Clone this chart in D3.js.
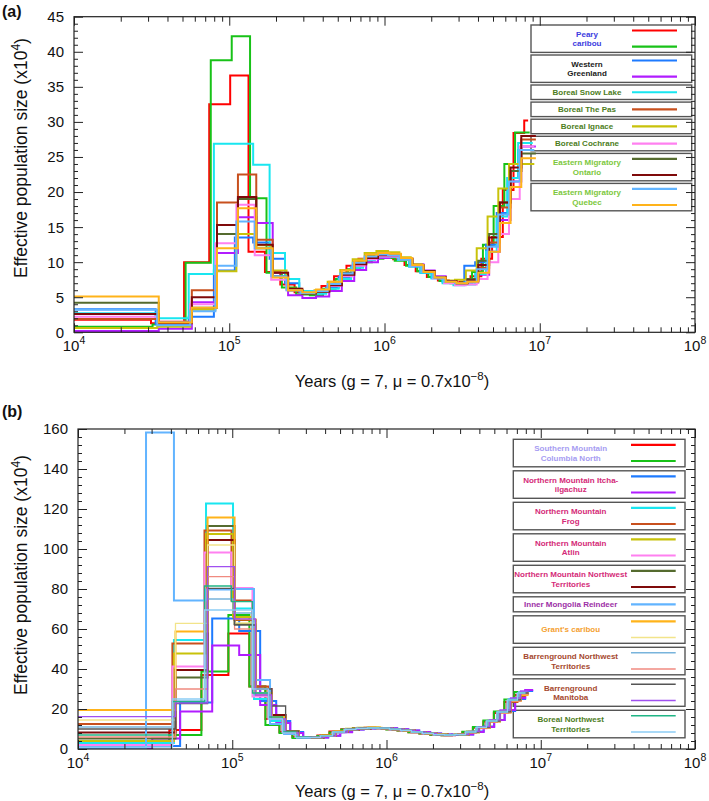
<!DOCTYPE html>
<html><head><meta charset="utf-8">
<script src="https://cdn.jsdelivr.net/npm/d3@7/dist/d3.min.js"></script>
<style>
body{margin:0;background:#fff}
text{font-family:"Liberation Sans",Arial,Helvetica,sans-serif}
</style>
</head><body>
<svg id="chart" width="709" height="801"></svg>
<script>
// ---------------- DATA ----------------
const xTickExponents = [4, 5, 6, 7, 8];
const yTicksA = [0, 5, 10, 15, 20, 25, 30, 35, 40, 45];
const yTicksB = [0, 20, 40, 60, 80, 100, 120, 140, 160];

// interval boundaries (log10 years) of the PSMC step curves
const gridA = [4.496, 4.709, 4.871, 5.006, 5.124, 5.230, 5.329, 5.421, 5.509, 5.594, 5.675, 5.755, 5.832, 5.908,
  5.983, 6.056, 6.129, 6.201, 6.273, 6.344, 6.414, 6.484, 6.554, 6.624, 6.693, 6.762, 6.831, 6.900, 6.925];
const gridB = [4.441, 4.622, 4.830, 5.005, 5.141, 5.245, 5.336, 5.420, 5.504, 5.582, 5.660, 5.737, 5.812, 5.887,
  5.958, 6.029, 6.101, 6.172, 6.243, 6.314, 6.386, 6.454, 6.522, 6.590, 6.658, 6.726, 6.794, 6.859, 6.911];

// panel (a) series: effective population size (x10^4) per interval
const pearyA1 = [1.8, 1.3, 10.0, 32.5, 36.6, 11.5, 8.6, 6.8, 5.7, 5.6, 6.6, 8.0, 9.5, 10.5, 10.9, 10.9, 10.4, 9.6, 8.7, 7.9, 7.4, 7.1, 7.2, 8.0, 10.5, 13.6, 20.3, 28.4, 30.2];
const pearyA2 = [0.8, 1.1, 9.9, 38.8, 42.2, 19.1, 8.5, 6.4, 5.4, 5.3, 6.2, 7.6, 9.0, 10.0, 10.5, 10.6, 10.2, 9.5, 8.7, 7.9, 7.3, 7.0, 7.1, 8.6, 12.5, 18.0, 24.0, 28.5, 28.5];
const westGreen1 = [3.3, 1.2, 2.2, 8.8, 13.5, 12.8, 10.5, 7.0, 5.7, 5.6, 6.4, 7.9, 9.4, 10.4, 10.8, 10.8, 10.3, 9.4, 8.5, 7.7, 7.2, 7.0, 9.5, 10.0, 12.5, 17.0, 22.0, 26.0, 26.0];
const westGreen2 = [0.2, 0.5, 4.3, 11.3, 16.4, 15.6, 8.5, 5.3, 4.9, 5.1, 5.9, 7.3, 8.9, 10.0, 10.6, 10.8, 10.5, 9.7, 8.8, 8.0, 7.3, 7.0, 7.1, 8.2, 11.5, 16.0, 21.5, 26.5, 26.5];
const snowLake = [2.7, 2.0, 8.3, 26.9, 26.9, 23.9, 11.3, 7.6, 5.9, 5.5, 6.2, 7.6, 9.2, 10.3, 10.8, 10.8, 10.3, 9.4, 8.5, 7.7, 7.0, 6.7, 6.8, 8.3, 11.5, 16.5, 22.0, 27.0, 27.0];
const thePas = [1.9, 1.5, 6.0, 18.5, 22.5, 13.2, 8.0, 6.0, 5.5, 5.8, 6.7, 8.2, 9.7, 10.6, 11.0, 11.0, 10.4, 9.5, 8.6, 7.8, 7.2, 7.0, 7.3, 9.2, 12.8, 17.8, 23.0, 27.5, 27.5];
const ignace = [0.6, 0.8, 3.2, 8.7, 14.0, 12.4, 8.8, 6.2, 5.6, 6.0, 7.2, 8.9, 10.4, 11.3, 11.6, 11.4, 10.7, 9.7, 8.7, 7.9, 7.4, 7.5, 8.8, 12.0, 16.5, 20.5, 24.0, 24.0, 24.0];
const cochrane = [2.2, 1.5, 4.0, 12.7, 18.2, 11.0, 7.5, 6.0, 5.6, 5.8, 6.6, 8.0, 9.5, 10.4, 10.8, 10.8, 10.4, 9.5, 8.6, 7.7, 7.0, 6.7, 6.8, 7.6, 10.0, 14.0, 19.0, 26.5, 26.5];
const ontario1 = [4.2, 1.4, 3.5, 14.0, 19.0, 12.0, 8.0, 6.0, 5.5, 5.8, 6.9, 8.5, 10.0, 10.9, 11.2, 11.1, 10.5, 9.6, 8.7, 7.8, 7.2, 7.0, 7.6, 10.2, 14.0, 18.5, 23.0, 25.5, 25.5];
const ontario2 = [2.6, 1.3, 5.0, 15.3, 19.3, 12.5, 8.5, 6.2, 5.6, 5.8, 6.7, 8.2, 9.7, 10.6, 11.0, 11.0, 10.5, 9.6, 8.7, 7.9, 7.3, 7.0, 7.4, 9.6, 13.5, 18.5, 23.5, 28.0, 28.0];
const quebec1 = [3.2, 1.0, 3.0, 9.5, 15.8, 12.0, 8.0, 6.0, 5.6, 5.9, 6.9, 8.4, 9.9, 10.8, 11.1, 11.0, 10.4, 9.5, 8.6, 7.8, 7.2, 7.0, 7.2, 9.0, 12.2, 16.8, 21.5, 26.0, 26.0];
const quebec2 = [5.1, 1.4, 3.5, 12.0, 17.7, 12.0, 7.8, 6.0, 5.7, 6.1, 7.2, 8.8, 10.2, 11.1, 11.3, 11.2, 10.6, 9.6, 8.6, 7.8, 7.2, 7.0, 7.2, 8.5, 11.5, 15.6, 20.7, 24.8, 24.8];
const shiftsA = [0, 0.01, 0.03, 0.05, 0.03, 0.05, 0.04, 0.04, 0.05, 0.05, 0.04, 0.05];

// panel (b) series
const colNorth1 = [4.0, 4.0, 9.5, 37.0, 57.8, 31.2, 15.0, 8.5, 6.0, 5.9, 6.8, 8.7, 9.9, 10.4, 10.6, 10.4, 9.9, 9.2, 8.4, 7.7, 7.1, 6.9, 7.1, 8.4, 10.6, 13.8, 18.0, 23.5, 27.0];
const colNorth2 = [2.5, 2.5, 7.0, 38.7, 67.0, 31.2, 12.0, 8.0, 5.5, 5.6, 6.5, 8.3, 9.7, 10.2, 10.4, 10.3, 9.8, 9.2, 8.4, 7.7, 7.1, 6.9, 7.1, 8.6, 11.0, 14.2, 18.8, 24.8, 28.5];
const itcha1 = [1.5, 1.5, 23.2, 65.3, 59.0, 24.0, 14.0, 8.5, 6.0, 5.8, 6.6, 8.5, 9.8, 10.3, 10.5, 10.4, 9.9, 9.3, 8.5, 7.8, 7.2, 7.0, 7.3, 8.8, 11.2, 14.5, 19.0, 25.0, 29.0];
const itcha2 = [0.3, 5.3, 18.7, 51.8, 47.0, 22.0, 13.0, 8.0, 5.6, 5.7, 6.6, 8.4, 9.7, 10.3, 10.5, 10.4, 9.9, 9.3, 8.5, 7.8, 7.2, 7.0, 7.2, 8.5, 11.0, 14.5, 19.5, 25.5, 29.5];
const frog1 = [3.0, 3.0, 54.5, 122.8, 70.3, 25.0, 14.0, 8.0, 5.8, 5.8, 6.6, 8.5, 9.8, 10.3, 10.5, 10.4, 9.9, 9.3, 8.5, 7.8, 7.2, 7.0, 7.2, 8.5, 10.8, 14.0, 18.5, 24.5, 28.0];
const frog2 = [12.5, 12.5, 52.8, 109.2, 74.2, 31.2, 16.0, 8.5, 6.0, 5.9, 6.7, 8.6, 9.9, 10.4, 10.6, 10.4, 9.9, 9.2, 8.4, 7.7, 7.1, 6.9, 7.1, 8.3, 10.5, 13.5, 18.0, 23.5, 26.5];
const atlin1 = [4.0, 4.0, 47.8, 107.5, 66.0, 28.0, 15.0, 8.0, 5.8, 5.9, 6.9, 8.8, 10.1, 10.6, 10.7, 10.5, 10.0, 9.3, 8.5, 7.8, 7.2, 7.0, 7.3, 8.7, 11.0, 14.3, 19.0, 25.0, 28.5];
const atlin2 = [2.0, 2.0, 41.2, 98.2, 80.5, 26.2, 15.0, 8.5, 6.0, 5.8, 6.5, 8.3, 9.6, 10.2, 10.4, 10.3, 9.8, 9.2, 8.4, 7.7, 7.1, 6.9, 7.0, 8.2, 10.4, 13.6, 18.0, 24.0, 27.5];
const nmNwt1 = [5.3, 5.3, 35.7, 111.5, 62.5, 28.0, 16.0, 8.0, 5.8, 5.8, 6.6, 8.5, 9.8, 10.3, 10.5, 10.4, 9.9, 9.3, 8.5, 7.8, 7.2, 7.0, 7.2, 8.4, 10.7, 13.9, 18.4, 24.2, 27.5];
const nmNwt2 = [8.2, 8.2, 39.5, 104.5, 64.5, 30.0, 17.0, 9.0, 6.0, 5.8, 6.6, 8.5, 9.8, 10.3, 10.5, 10.4, 9.9, 9.3, 8.5, 7.8, 7.2, 7.0, 7.2, 8.5, 10.8, 14.0, 18.5, 24.5, 28.0];
const mongolia = [0.5, 158.2, 74.2, 79.8, 80.0, 34.5, 12.5, 7.5, 5.6, 5.7, 6.5, 8.4, 9.8, 10.3, 10.5, 10.4, 9.9, 9.3, 8.5, 7.8, 7.2, 7.0, 7.2, 8.6, 11.0, 14.2, 18.8, 25.0, 28.5];
const grants1 = [19.5, 19.5, 58.7, 115.7, 64.8, 28.0, 16.0, 9.0, 6.0, 5.9, 6.7, 8.6, 9.9, 10.4, 10.6, 10.4, 9.9, 9.3, 8.5, 7.8, 7.2, 7.0, 7.2, 8.4, 10.6, 13.8, 18.2, 24.0, 27.0];
const grants2 = [14.5, 14.5, 62.8, 102.0, 63.0, 27.0, 15.0, 8.5, 5.9, 5.8, 6.6, 8.5, 9.8, 10.3, 10.5, 10.4, 9.9, 9.3, 8.5, 7.8, 7.2, 7.0, 7.2, 8.5, 10.8, 14.0, 18.5, 24.5, 28.0];
const bgNwt1 = [11.0, 11.0, 24.0, 75.0, 68.0, 28.0, 15.0, 8.0, 5.8, 5.8, 6.6, 8.5, 9.8, 10.3, 10.5, 10.4, 9.9, 9.3, 8.5, 7.8, 7.2, 7.0, 7.2, 8.5, 10.8, 14.0, 18.5, 24.5, 28.5];
const bgNwt2 = [6.0, 6.0, 30.0, 86.2, 60.0, 27.0, 15.0, 8.0, 5.8, 5.8, 6.6, 8.5, 9.8, 10.3, 10.5, 10.4, 9.9, 9.3, 8.5, 7.8, 7.2, 7.0, 7.2, 8.4, 10.6, 13.8, 18.2, 24.0, 27.5];
const bgMan1 = [10.0, 10.0, 22.7, 80.3, 62.0, 30.0, 21.5, 9.0, 6.0, 5.9, 6.7, 8.6, 9.9, 10.4, 10.6, 10.4, 9.9, 9.3, 8.5, 7.8, 7.2, 7.0, 7.2, 8.5, 10.8, 14.0, 18.6, 24.6, 28.0];
const bgMan2 = [16.2, 16.2, 23.0, 91.2, 65.0, 27.0, 15.0, 8.0, 5.8, 5.8, 6.6, 8.5, 9.8, 10.3, 10.5, 10.4, 9.9, 9.3, 8.5, 7.8, 7.2, 7.0, 7.3, 8.8, 11.2, 14.6, 19.5, 25.5, 29.0];
const borNwt1 = [7.0, 7.0, 23.7, 81.5, 73.7, 28.0, 16.0, 8.5, 6.0, 5.8, 6.6, 8.5, 9.8, 10.3, 10.5, 10.4, 9.9, 9.3, 8.5, 7.8, 7.2, 7.0, 7.2, 8.5, 10.8, 14.0, 18.5, 24.5, 28.0];
const borNwt2 = [1.0, 1.0, 25.0, 69.5, 69.5, 30.0, 15.0, 8.0, 5.8, 5.8, 6.6, 8.5, 9.8, 10.3, 10.5, 10.4, 9.9, 9.3, 8.5, 7.8, 7.2, 7.0, 7.2, 8.5, 10.8, 14.0, 18.5, 24.5, 28.0];
const shiftsB = [-0.03, -0.03, 0.04, 0.04, 0, -0.01, 0, -0.01, 0.01, 0.01, 0, 0.01, 0.01, 0, 0.01, 0.01, 0.01, -0.01, -0.01];

// legend groups (label lines, label colour, series indices)
const legendA = [
  {label: ["Peary", "caribou"], tc: "#3c3ce0", s: [0, 1]},
  {label: ["Western", "Greenland"], tc: "#1a1a1a", s: [2, 3]},
  {label: ["Boreal Snow Lake"], tc: "#4c7d1c", s: [4]},
  {label: ["Boreal The Pas"], tc: "#4c7d1c", s: [5]},
  {label: ["Boreal Ignace"], tc: "#4c7d1c", s: [6]},
  {label: ["Boreal Cochrane"], tc: "#4c7d1c", s: [7]},
  {label: ["Eastern Migratory", "Ontario"], tc: "#7cc83c", s: [8, 9]},
  {label: ["Eastern Migratory", "Quebec"], tc: "#7cc83c", s: [10, 11]}
];
const legendB = [
  {label: ["Southern Mountain", "Columbia North"], tc: "#a69cf2", s: [0, 1]},
  {label: ["Northern Mountain Itcha-", "ilgachuz"], tc: "#d42a78", s: [2, 3]},
  {label: ["Northern Mountain", "Frog"], tc: "#d42a78", s: [4, 5]},
  {label: ["Northern Mountain", "Atlin"], tc: "#d42a78", s: [6, 7]},
  {label: ["Northern Mountain Northwest", "Territories"], tc: "#d42a78", s: [8, 9]},
  {label: ["Inner Mongolia Reindeer"], tc: "#9c2fa6", s: [10]},
  {label: ["Grant's caribou"], tc: "#f5a030", s: [11, 12]},
  {label: ["Barrenground Northwest", "Territories"], tc: "#a5482e", s: [13, 14]},
  {label: ["Barrenground", "Manitoba"], tc: "#a5482e", s: [15, 16]},
  {label: ["Boreal Northwest", "Territories"], tc: "#4c7d1c", s: [17, 18]}
];

// ---------------- STYLE ----------------
const coreColors = ["#ff0000", "#18c218", "#1e7bff", "#b11cff", "#19e6f0", "#c8501e",
  "#c8c20a", "#ff80f0", "#556b2f", "#7f0a0a", "#62b4ff", "#ffb31a"];
const extraColors = ["#f2e48a", "#78b4dc", "#f08a80", "#555555", "#a050f0", "#20b585", "#8ccdf5"];

const seriesA = [pearyA1, pearyA2, westGreen1, westGreen2, snowLake, thePas, ignace, cochrane,
  ontario1, ontario2, quebec1, quebec2].map((v, i) => ({values: v, shift: shiftsA[i], color: coreColors[i], w: 2}));

const colorsB = coreColors.concat(extraColors);
const seriesB = [colNorth1, colNorth2, itcha1, itcha2, frog1, frog2, atlin1, atlin2, nmNwt1, nmNwt2,
  mongolia, grants1, grants2, bgNwt1, bgNwt2, bgMan1, bgMan2, borNwt1, borNwt2].map((v, i) => ({
    values: v, shift: shiftsB[i], color: colorsB[i], w: i >= 12 ? 1.3 : 2
  }));

const svg = d3.select("#chart");
const defs = svg.append("defs");

function drawPanel(p) {
  const x = d3.scaleLog().domain([1e4, 1e8]).range([p.left, p.right]);
  const y = d3.scaleLinear().domain([0, p.yTicks[p.yTicks.length - 1]]).range([p.bottom, p.top]);

  // legend (drawn first: the curves pass over it)
  const lg = svg.append("g");
  let yy = p.legTop;
  p.legend.forEach(item => {
    const h = item.s.length === 2 ? p.legH2 : p.legH1;
    lg.append("rect").attr("x", p.legLeft).attr("y", yy).attr("width", p.legW).attr("height", h)
      .attr("fill", "#fff").attr("stroke", "#555").attr("stroke-width", 1.4);
    const cy = yy + h / 2;
    item.label.forEach((ln, k) => {
      const off = item.label.length === 2 ? (k === 0 ? -4.7 : 4.7) : 0;
      lg.append("text").attr("x", p.legLeft + p.legTextDx).attr("y", cy + off + 2.9)
        .attr("text-anchor", "middle").attr("font-size", 8).attr("font-weight", "bold")
        .attr("fill", item.tc).text(ln);
    });
    item.s.forEach((si, k) => {
      const ly = item.s.length === 2 ? (k === 0 ? yy + 5.5 : yy + h - 5.8) : cy;
      const s = p.series[si];
      lg.append("line").attr("x1", p.legLeft + p.legLineX1).attr("x2", p.legLeft + p.legLineX2)
        .attr("y1", ly).attr("y2", ly).attr("stroke", s.color).attr("stroke-width", s.w === 2 ? 2.2 : 1.4);
    });
    yy += h + p.legGap;
  });

  defs.append("clipPath").attr("id", "clip" + p.id).append("rect")
    .attr("x", p.left).attr("y", p.top).attr("width", p.right - p.left).attr("height", p.bottom - p.top);

  const line = d3.line().x(d => x(d[0])).y(d => y(d[1])).curve(d3.curveStepAfter);
  const gl = svg.append("g").attr("clip-path", `url(#clip${p.id})`);
  p.series.forEach(s => {
    const pts = s.values.map((v, i) => [i === 0 ? 1e4 : Math.pow(10, p.grid[i - 1] + s.shift), v]);
    pts.push([Math.pow(10, p.grid[p.grid.length - 1] + s.shift), s.values[s.values.length - 1]]);
    gl.append("path").attr("d", line(pts)).attr("fill", "none")
      .attr("stroke", s.color).attr("stroke-width", s.w).attr("stroke-linejoin", "miter");
  });

  // axes
  const majors = xTickExponents.map(e => Math.pow(10, e));
  const minors = [];
  xTickExponents.slice(0, -1).forEach(e => { for (let m = 2; m <= 9; m++) minors.push(m * Math.pow(10, e)); });
  const yStep = p.yTicks[1] - p.yTicks[0];
  const yMinors = d3.range(0, p.yTicks[p.yTicks.length - 1] + 1e-9, p.yMinor).filter(v => Math.abs(v / yStep - Math.round(v / yStep)) > 1e-6);

  const ax = svg.append("g").attr("class", "axes");
  const addAxis = (gen, tr) => {
    const g = ax.append("g").attr("transform", tr).call(gen);
    g.select(".domain").remove();
    g.selectAll("line").attr("stroke", "#222").attr("stroke-width", 1);
    g.selectAll("text").remove();
  };
  addAxis(d3.axisBottom(x).tickValues(majors).tickSize(-9), `translate(0,${p.bottom})`);
  addAxis(d3.axisBottom(x).tickValues(minors).tickSize(-5), `translate(0,${p.bottom})`);
  addAxis(d3.axisTop(x).tickValues(majors).tickSize(-9), `translate(0,${p.top})`);
  addAxis(d3.axisTop(x).tickValues(minors).tickSize(-5), `translate(0,${p.top})`);
  addAxis(d3.axisLeft(y).tickValues(p.yTicks).tickSize(-9), `translate(${p.left},0)`);
  addAxis(d3.axisLeft(y).tickValues(yMinors).tickSize(-4), `translate(${p.left},0)`);
  addAxis(d3.axisRight(y).tickValues(p.yTicks).tickSize(-9), `translate(${p.right},0)`);
  addAxis(d3.axisRight(y).tickValues(yMinors).tickSize(-4), `translate(${p.right},0)`);

  ax.append("rect").attr("x", p.left).attr("y", p.top).attr("width", p.right - p.left).attr("height", p.bottom - p.top)
    .attr("fill", "none").attr("stroke", "#222").attr("stroke-width", 1.2);

  // y tick labels
  p.yTicks.forEach(v => {
    ax.append("text").attr("x", p.left - 10).attr("y", y(v)).attr("dy", "0.36em")
      .attr("text-anchor", "end").attr("font-size", 15).attr("fill", "#111").text(v);
  });
  // x tick labels
  xTickExponents.forEach(e => {
    const t = ax.append("text").attr("x", x(Math.pow(10, e))).attr("y", p.bottom + 19)
      .attr("text-anchor", "middle").attr("font-size", 15).attr("fill", "#111");
    t.append("tspan").text("10");
    t.append("tspan").attr("font-size", 10.5).attr("dy", -7).text(e);
  });
  // x title
  const xt = ax.append("text").attr("x", p.xTitleX).attr("y", p.xTitleY).attr("text-anchor", "middle")
    .attr("font-size", 16.5).attr("fill", "#111");
  xt.append("tspan").text("Years (g = 7, \u03bc = 0.7x10");
  xt.append("tspan").attr("font-size", 11.5).attr("dy", -7).text("\u22128");
  xt.append("tspan").attr("dy", 7).text(")");
  // y title
  const yt = ax.append("text").attr("transform", `translate(${p.yTitleX},${p.yTitleY}) rotate(-90)`)
    .attr("text-anchor", "middle").attr("font-size", 17.5).attr("fill", "#111");
  yt.append("tspan").text("Effective population size (x10");
  yt.append("tspan").attr("font-size", 12).attr("dy", -7).text("4");
  yt.append("tspan").attr("dy", 7).text(")");
  // panel label
  ax.append("text").attr("x", 2).attr("y", p.labelY).attr("font-size", 16).attr("font-weight", "bold")
    .attr("fill", "#111").text(p.label);
}

drawPanel({
  id: "a", label: "(a)", labelY: 17, left: 74, right: 695, top: 16.7, bottom: 332.3,
  yTicks: yTicksA, yMinor: 1, grid: gridA, series: seriesA,
  xTitleX: 392, xTitleY: 387, yTitleX: 27, yTitleY: 158,
  legend: legendA, legTop: 25, legLeft: 531, legW: 160.7, legH2: 27.4, legH1: 14.5, legGap: 2.6,
  legTextDx: 56, legLineX1: 101, legLineX2: 146
});
drawPanel({
  id: "b", label: "(b)", labelY: 417, left: 78, right: 695, top: 429, bottom: 749,
  yTicks: yTicksB, yMinor: 4, grid: gridB, series: seriesB,
  xTitleX: 392, xTitleY: 797, yTitleX: 27, yTitleY: 575,
  legend: legendB, legTop: 439.3, legLeft: 513.3, legW: 171.7, legH2: 27.5, legH1: 15, legGap: 4,
  legTextDx: 57.4, legLineX1: 117.7, legLineX2: 162.4
});
</script>
</body></html>
